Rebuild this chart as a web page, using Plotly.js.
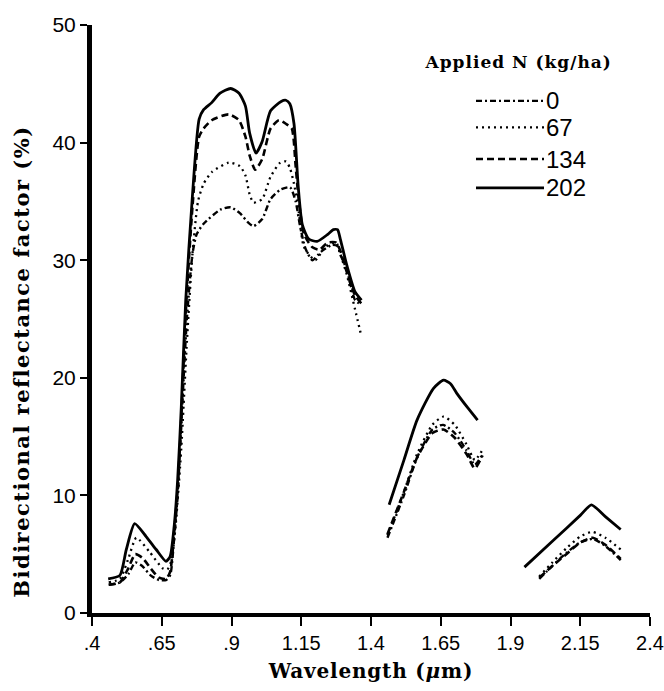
<!DOCTYPE html>
<html>
<head>
<meta charset="utf-8">
<script src="https://cdn.plot.ly/plotly-3.0.1.min.js"></script>
<style>
html,body{margin:0;padding:0;background:#fff;}
#chart{width:664px;height:691px;}
.xtitle{letter-spacing:0.8px;}
g.annotation[data-index="0"] text{letter-spacing:1px;}
g.annotation[data-index="1"] text{letter-spacing:1.5px;}
</style>
</head>
<body>
<div id="chart"></div>
<script>
// Applied nitrogen levels (kg/ha)
const seriesNames = ["0", "67", "134", "202"];

// Wavelength (µm) / reflectance (%) for each level; null separates the three spectral bands
const x0 = [0.46,0.50,0.53,0.555,0.58,0.61,0.64,0.665,0.68,0.695,0.707,0.72,0.74,0.76,0.775,0.80,0.86,0.897,0.93,0.96,0.979,1.01,1.04,1.075,1.11,1.13,1.145,1.165,1.19,1.22,1.26,1.28,1.29,1.313,1.343,1.366,
  null,1.459,1.518,1.565,1.62,1.658,1.70,1.743,1.772,1.80,
  null,2.003,2.05,2.10,2.15,2.195,2.24,2.295];
const y0 = [2.4,2.6,3.3,4.3,4.0,3.2,2.8,2.8,3.2,6.5,10.0,16,25,30.5,32.2,33.1,34.3,34.5,34.0,33.2,32.9,33.5,35.2,36.0,36.2,35.0,33.0,31.0,30.0,30.7,31.3,31.2,30.5,29.2,26.6,26.2,
  null,6.4,10.0,13.2,15.6,16.0,15.3,13.8,12.6,13.5,
  null,2.9,4.0,5.1,6.0,6.3,5.7,4.5];

const x67 = [0.46,0.50,0.53,0.559,0.606,0.653,0.67,0.685,0.70,0.72,0.74,0.76,0.78,0.80,0.83,0.89,0.93,0.95,0.965,0.979,1.01,1.04,1.075,1.096,1.11,1.124,1.139,1.16,1.20,1.235,1.275,1.29,1.313,1.343,1.366,
  null,1.459,1.518,1.565,1.62,1.66,1.70,1.743,1.772,1.80,
  null,2.003,2.05,2.10,2.15,2.193,2.24,2.295];
const y67 = [2.6,2.9,4.6,6.4,5.2,3.8,3.7,4.5,7.5,14,23,30.5,35.0,36.5,37.5,38.3,38.0,37.2,35.6,34.9,35.2,37.1,38.3,38.4,37.8,36.5,34.5,31.1,30.0,31.1,31.5,30.5,28.8,25.8,23.5,
  null,6.6,10.3,13.5,16.0,16.7,16.0,14.3,13.0,13.9,
  null,3.1,4.3,5.5,6.5,6.9,6.4,5.4];

const x134 = [0.46,0.50,0.53,0.555,0.58,0.61,0.64,0.665,0.68,0.695,0.707,0.72,0.736,0.76,0.784,0.80,0.829,0.89,0.927,0.95,0.965,0.985,1.01,1.04,1.07,1.095,1.116,1.13,1.139,1.16,1.19,1.215,1.245,1.275,1.29,1.313,1.343,1.366,
  null,1.459,1.518,1.565,1.62,1.66,1.70,1.743,1.772,1.80,
  null,2.003,2.05,2.10,2.15,2.195,2.24,2.295];
const y134 = [2.4,2.6,3.8,5.0,4.7,3.8,3.0,2.9,3.5,7.0,10.5,16.5,25.5,34.5,40.5,41.2,41.9,42.4,41.9,40.5,38.9,37.7,38.6,41.2,41.9,41.6,41.2,38.0,35.6,32.2,31.1,30.9,31.5,31.5,30.8,29.0,27.0,26.3,
  null,6.7,10.3,13.2,15.3,15.6,14.9,13.5,12.3,13.4,
  null,3.0,4.0,5.0,6.0,6.4,5.8,4.6];

const x202 = [0.458,0.50,0.523,0.553,0.594,0.63,0.665,0.68,0.695,0.707,0.72,0.736,0.76,0.784,0.80,0.829,0.859,0.897,0.927,0.95,0.965,0.988,1.01,1.04,1.078,1.095,1.109,1.124,1.139,1.154,1.177,1.207,1.245,1.265,1.28,1.29,1.313,1.343,1.366,
  null,1.465,1.518,1.565,1.624,1.66,1.685,1.707,1.745,1.782,
  null,1.95,2.05,2.15,2.19,2.24,2.295];
const y202 = [2.9,3.2,5.4,7.6,6.5,5.4,4.4,4.8,7.5,11.3,17.5,26.6,35.5,42.0,42.8,43.4,44.2,44.6,44.2,43.1,40.8,39.1,40.1,42.7,43.5,43.6,43.3,41.6,36.3,33.0,31.8,31.6,32.2,32.6,32.6,31.8,29.6,27.3,26.6,
  null,9.2,13.0,16.4,19.1,19.8,19.5,18.7,17.5,16.4,
  null,3.9,6.1,8.3,9.2,8.2,7.1];

// Axis ticks
const xTickVals = [0.4,0.65,0.9,1.15,1.4,1.65,1.9,2.15,2.4];
const xTickText = [".4",".65",".9","1.15","1.4","1.65","1.9","2.15","2.4"];
const yTickVals = [0,10,20,30,40,50];

const xs = [x0, x67, x134, x202];
const ys = [y0, y67, y134, y202];
const dashes = ["6px,3px,2px,3px", "2px,4px", "7px,4px", "solid"];
const widths = [2.4, 2.3, 2.6, 2.8];

const traces = seriesNames.map((n, i) => ({
  type: "scatter", mode: "lines", name: n,
  x: xs[i], y: ys[i], connectgaps: false,
  line: {color: "#000", width: widths[i], dash: dashes[i], shape: "spline", smoothing: 0.6},
  showlegend: false, hoverinfo: "skip"
}));

// Plot spans 92..650 px horizontally (558 px)
const PW = 558;
const px = p => (p - 92) / PW;

// Legend title, y-axis title, and legend key lines with labels
const shapes = [];
const annotations = [
  {xref: "paper", yref: "paper", x: px(518), y: 0.937, xanchor: "center", yanchor: "middle",
   text: "<b>Applied N (kg/ha)</b>", showarrow: false,
   font: {family: "DejaVu Serif, serif", size: 17, color: "#000"}},
  {xref: "paper", yref: "paper", x: px(22), y: 0.427, xanchor: "center", yanchor: "middle",
   textangle: -90, text: "<b>Bidirectional reflectance factor (%)</b>", showarrow: false,
   font: {family: "DejaVu Serif, serif", size: 21, color: "#000"}}
];
const legY = [0.871, 0.826, 0.772, 0.723];
seriesNames.forEach((n, i) => {
  shapes.push({type: "line", xref: "paper", yref: "paper",
    x0: px(476), x1: px(544), y0: legY[i], y1: legY[i],
    line: {color: "#000", width: widths[i], dash: dashes[i]}});
  annotations.push({xref: "paper", yref: "paper", x: px(544), y: legY[i],
    xanchor: "left", yanchor: "middle", text: n, showarrow: false,
    font: {family: "Liberation Sans, Arial, sans-serif", size: 24, color: "#000"}});
});

const layout = {
  width: 664, height: 691,
  margin: {l: 92, r: 14, t: 25, b: 78},
  paper_bgcolor: "#fff", plot_bgcolor: "#fff",
  showlegend: false,
  font: {family: "Liberation Sans, Arial, sans-serif", color: "#000"},
  xaxis: {
    range: [0.4, 2.4], tickvals: xTickVals, ticktext: xTickText,
    showgrid: false, zeroline: false, showline: true, linecolor: "#000", linewidth: 4,
    ticks: "outside", ticklen: 9, tickwidth: 2, tickcolor: "#000",
    ticklabeloverflow: "allow",
    tickfont: {size: 20, family: "Liberation Sans, Arial, sans-serif"},
    title: {text: "<b>Wavelength (<i>μ</i>m)</b>", font: {family: "DejaVu Serif, serif", size: 20}, standoff: 12}
  },
  yaxis: {
    range: [0, 50], tickvals: yTickVals,
    showgrid: false, zeroline: false, showline: true, linecolor: "#000", linewidth: 5,
    ticks: "outside", ticklen: 7, tickwidth: 2, tickcolor: "#000",
    tickfont: {size: 21, family: "Liberation Sans, Arial, sans-serif"}
  },
  shapes: shapes, annotations: annotations
};

Plotly.newPlot("chart", traces, layout, {displayModeBar: false, staticPlot: true});
</script>
</body>
</html>
